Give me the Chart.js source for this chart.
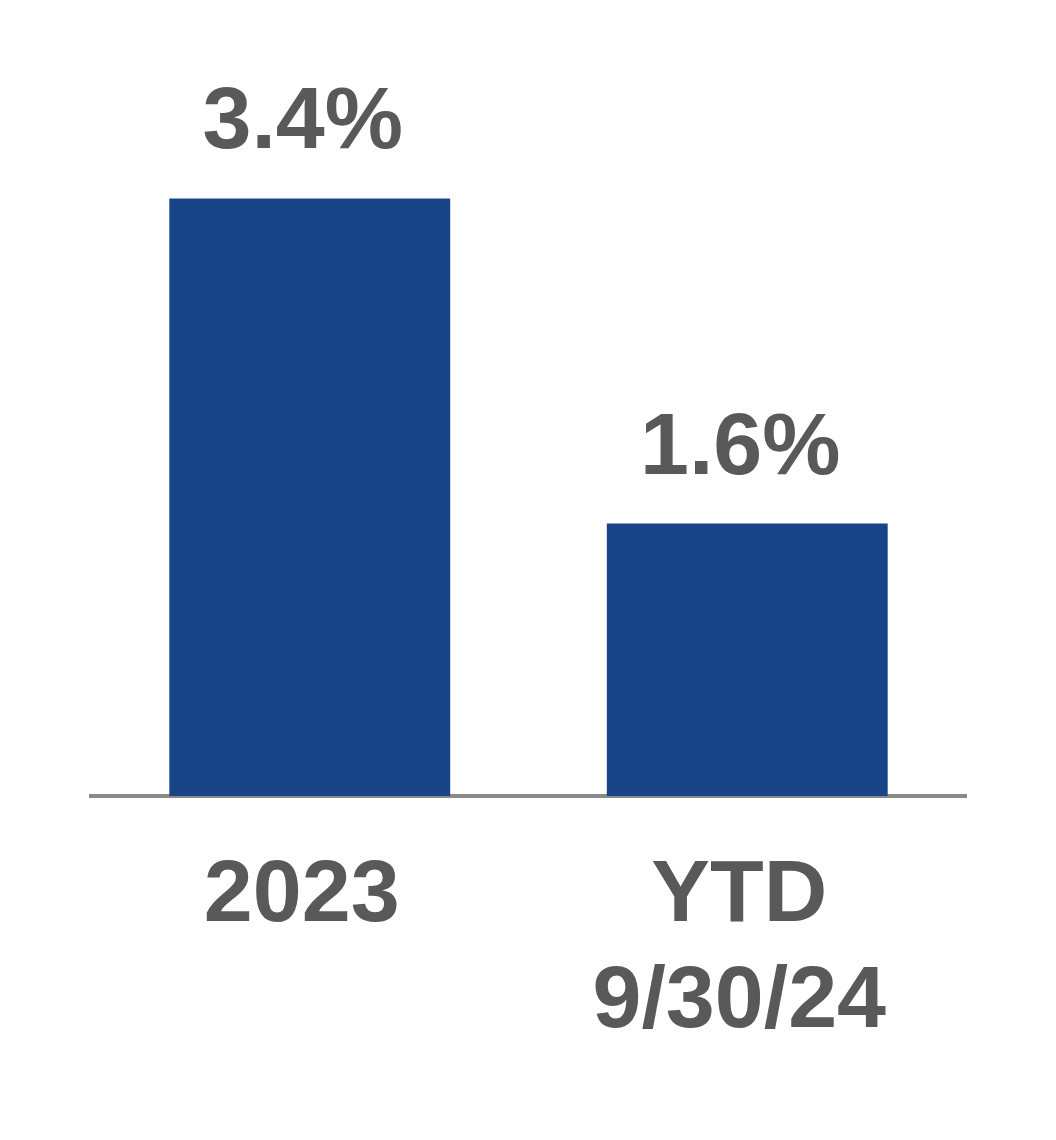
<!DOCTYPE html>
<html>
<head>
<meta charset="utf-8">
<script src="https://cdn.jsdelivr.net/npm/chart.js@4"></script>
<style>
html,body{margin:0;padding:0;background:#ffffff;}
#wrap{width:1056px;height:1140px;position:relative;}
</style>
</head>
<body>
<div id="wrap"><canvas id="c" width="1056" height="1140"></canvas></div>
<script>
const categories = [["2023"], ["YTD", "9/30/24"]];
const values = [3.4, 1.55];
const valueLabels = ["3.4%", "1.6%"];

const FONT = "'Liberation Sans', Arial, sans-serif";
const TEXT = "#595959";

const valueLabelPlugin = {
  id: 'valueLabels',
  afterDatasetsDraw(chart) {
    const ctx = chart.ctx;
    const meta = chart.getDatasetMeta(0);
    ctx.save();
    ctx.font = "bold 88px " + FONT;
    ctx.fillStyle = TEXT;
    ctx.textAlign = 'center';
    ctx.textBaseline = 'alphabetic';
    meta.data.forEach((bar, i) => {
      ctx.fillText(valueLabels[i], bar.x - 7, bar.y - 50);
    });
    ctx.restore();
  }
};

new Chart(document.getElementById('c'), {
  type: 'bar',
  data: {
    labels: categories,
    datasets: [{
      data: values,
      backgroundColor: '#174588',
      borderWidth: 0,
      barPercentage: 0.642,
      categoryPercentage: 1.0
    }]
  },
  options: {
    responsive: false,
    animation: false,
    devicePixelRatio: 1,
    layout: { padding: { left: 91, right: 90, top: 93, bottom: 37 } },
    plugins: { legend: { display: false }, tooltip: { enabled: false } },
    scales: {
      x: {
        z: 1,
        grid: { display: false, drawTicks: false },
        border: { display: true, color: '#898989', width: 4 },
        ticks: {
          color: TEXT,
          padding: 47,
          labelOffset: -8,
          font: { family: FONT, size: 88, weight: 'bold', lineHeight: 1.21 }
        }
      },
      y: {
        display: false,
        min: 0,
        max: 4
      }
    }
  },
  plugins: [valueLabelPlugin]
});
</script>
</body>
</html>
